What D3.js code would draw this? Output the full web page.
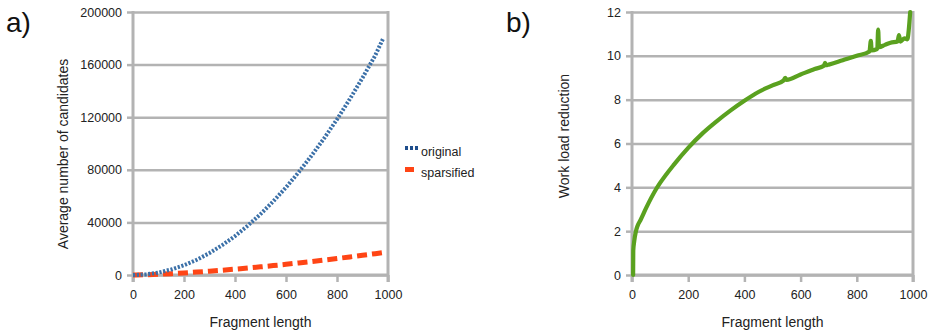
<!DOCTYPE html>
<html>
<head>
<meta charset="utf-8">
<script src="https://cdn.jsdelivr.net/npm/d3@7"></script>
<style>
  body { margin: 0; background: #fff; }
  svg { display: block; font-family: "Liberation Sans", Arial, Helvetica, sans-serif; }
  .tick text { fill: #222; font-size: 12.5px; }
</style>
</head>
<body>
<div id="chart"></div>
<script>
// ---- data ----
// panel a: fragment length vs average number of candidates
let lengthsA = [0, 10, 50, 100, 150, 200, 250, 300, 350, 400, 450, 500, 550, 600, 650, 700, 750, 800, 850, 900, 950, 980];
let originalVals = [0, 20, 460, 1850, 4200, 7400, 11600, 16700, 22700, 29600, 37500, 46300, 56000, 66600, 78200, 90700, 104100, 118400, 133700, 149900, 167000, 179500];
let sparseVals = [0, 20, 200, 550, 1000, 1570, 2200, 2880, 3630, 4430, 5290, 6190, 7150, 8140, 9180, 10260, 11380, 12530, 13730, 14960, 16220, 17000];

// panel b: fragment length vs work load reduction
let lengthsB = [4, 4.5, 8, 14, 20, 30, 50, 85, 100, 150, 200, 250, 300, 350, 400, 450, 500, 540, 545, 550, 600, 650, 683, 687, 691, 700, 750, 800, 845, 850, 853, 870, 873, 876, 879, 900, 920, 945, 950, 955, 970, 980, 985, 990];
let reductionVals = [0, 1.1, 1.55, 2.0, 2.25, 2.5, 3.05, 3.9, 4.2, 5.05, 5.8, 6.45, 7.0, 7.5, 7.95, 8.35, 8.65, 8.88, 9.0, 8.9, 9.15, 9.4, 9.55, 9.68, 9.57, 9.6, 9.8, 10.0, 10.2, 10.68, 10.25, 10.3, 10.35, 11.2, 10.4, 10.5, 10.6, 10.65, 10.95, 10.65, 10.8, 10.75, 11.2, 12.0];

let xTicks = [0, 200, 400, 600, 800, 1000];
let yTicksA = [0, 40000, 80000, 120000, 160000, 200000];
let yTicksB = [0, 2, 4, 6, 8, 10, 12];

const gridColor = "#b3b3b3";

let svg = d3.select("#chart").append("svg")
    .attr("width", 935)
    .attr("height", 334);

function drawFrame(x, y, yTicks, yTitle, yTitleX, yTitleY, panelLabel, labelX) {
    let left = x.range()[0], right = x.range()[1];
    let bottom = y.range()[0], top = y.range()[1];

    // horizontal gridlines
    svg.append("g")
        .attr("transform", `translate(${left},0)`)
        .call(d3.axisLeft(y).tickValues(yTicks).tickSize(-(right - left)).tickFormat(""))
        .call(g => g.select(".domain").remove())
        .call(g => g.selectAll("line").attr("stroke", gridColor).attr("stroke-width", 2.5));

    // y axis ticks + labels
    svg.append("g")
        .attr("transform", `translate(${left},0)`)
        .call(d3.axisLeft(y).tickValues(yTicks).tickSize(6).tickPadding(5).tickFormat(d3.format("d")))
        .call(g => g.select(".domain").remove())
        .call(g => g.selectAll("line").attr("stroke", gridColor).attr("stroke-width", 2.5));

    // x axis ticks + labels
    svg.append("g")
        .attr("transform", `translate(0,${bottom})`)
        .call(d3.axisBottom(x).tickValues(xTicks).tickSize(7).tickPadding(8).tickFormat(d3.format("d")))
        .call(g => g.select(".domain").remove())
        .call(g => g.selectAll("line").attr("stroke", gridColor).attr("stroke-width", 2.5));

    // axis line and right border
    svg.append("line")
        .attr("x1", left).attr("x2", left)
        .attr("y1", top - 1).attr("y2", bottom + 7)
        .attr("stroke", gridColor).attr("stroke-width", 3);
    svg.append("line")
        .attr("x1", right).attr("x2", right)
        .attr("y1", top - 1).attr("y2", bottom + 7)
        .attr("stroke", gridColor).attr("stroke-width", 3);
    svg.append("line")
        .attr("x1", left).attr("x2", right)
        .attr("y1", bottom).attr("y2", bottom)
        .attr("stroke", gridColor).attr("stroke-width", 3);

    // titles
    svg.append("text")
        .attr("x", (left + right) / 2)
        .attr("y", 327)
        .attr("text-anchor", "middle")
        .attr("font-size", 14)
        .attr("fill", "#222")
        .text("Fragment length");

    svg.append("text")
        .attr("transform", `translate(${yTitleX},${yTitleY}) rotate(-90)`)
        .attr("text-anchor", "middle")
        .attr("font-size", 14)
        .attr("fill", "#222")
        .text(yTitle);

    svg.append("text")
        .attr("x", labelX)
        .attr("y", 32)
        .attr("font-size", 28)
        .attr("fill", "#111")
        .text(panelLabel);
}

// ---- panel a ----
let xA = d3.scaleLinear().domain([0, 1000]).range([133, 388]);
let yA = d3.scaleLinear().domain([0, 200000]).range([275, 12]);

drawFrame(xA, yA, yTicksA, "Average number of candidates", 68, 154, "a)", 6);

let lineA = d3.line()
    .x((d, i) => xA(lengthsA[i]))
    .y(d => yA(d));

svg.append("path")
    .datum(sparseVals)
    .attr("d", lineA)
    .attr("fill", "none")
    .attr("stroke", "#ff4515")
    .attr("stroke-width", 5)
    .attr("stroke-dasharray", "10,5");

svg.append("path")
    .datum(originalVals)
    .attr("d", lineA)
    .attr("fill", "none")
    .attr("stroke", "#3b70a8")
    .attr("stroke-width", 4)
    .attr("stroke-dasharray", "2.2,1.6");

// legend
let legend = svg.append("g").attr("transform", "translate(405,0)");
legend.append("line")
    .attr("x1", 0).attr("x2", 14).attr("y1", 148).attr("y2", 148)
    .attr("stroke", "#1f4e8c").attr("stroke-width", 4).attr("stroke-dasharray", "3,2");
legend.append("text")
    .attr("x", 16).attr("y", 155.5)
    .attr("font-size", 12.5).attr("fill", "#222")
    .text("original");
legend.append("line")
    .attr("x1", 0).attr("x2", 9).attr("y1", 169.5).attr("y2", 169.5)
    .attr("stroke", "#ff4515").attr("stroke-width", 5);
legend.append("text")
    .attr("x", 16).attr("y", 176.5)
    .attr("font-size", 12.5).attr("fill", "#222")
    .text("sparsified");

// ---- panel b ----
let xB = d3.scaleLinear().domain([0, 1000]).range([632, 913]);
let yB = d3.scaleLinear().domain([0, 12]).range([275, 12]);

drawFrame(xB, yB, yTicksB, "Work load reduction", 569, 136, "b)", 506);

let lineB = d3.line()
    .x((d, i) => xB(lengthsB[i]))
    .y(d => yB(d))
    .curve(d3.curveMonotoneX);

svg.append("path")
    .datum(reductionVals)
    .attr("d", lineB)
    .attr("fill", "none")
    .attr("stroke", "#5aa11f")
    .attr("stroke-width", 4.2)
    .attr("stroke-linejoin", "round")
    .attr("stroke-linecap", "round");
</script>
</body>
</html>
